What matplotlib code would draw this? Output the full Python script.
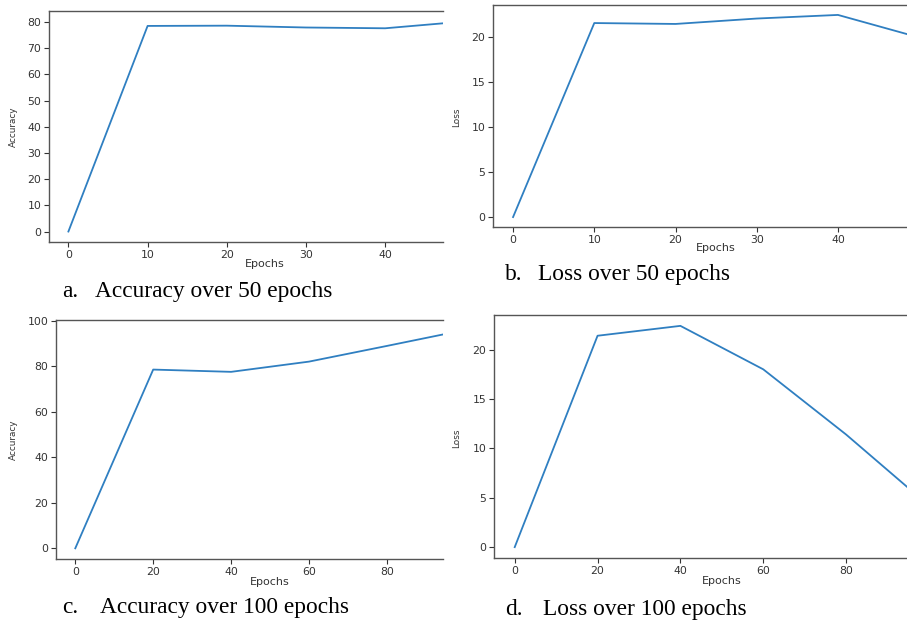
import matplotlib
matplotlib.use("Agg")
import matplotlib.pyplot as plt

# values
epochs_50 = [0, 10, 20, 30, 40, 50]
acc_50 = [0, 78.5, 78.6, 77.9, 77.6, 80.2]
loss_50 = [0, 21.5, 21.4, 22.0, 22.4, 19.9]

epochs_100 = [0, 20, 40, 60, 80, 100]
acc_100 = [0, 78.6, 77.6, 82.1, 89.0, 96.0]
loss_100 = [0, 21.4, 22.4, 18.0, 11.4, 4.2]

captions = [
    ("a.", "Accuracy over 50 epochs"),
    ("b.", "Loss over 50 epochs"),
    ("c.", "Accuracy over 100 epochs"),
    ("d.", "Loss over 100 epochs"),
]

W, H = 907, 624
fig = plt.figure(figsize=(W / 100, H / 100), dpi=100)


def px_axes(left, top, right, bottom):
    return fig.add_axes([left / W, 1 - bottom / H, (right - left) / W, (bottom - top) / H])


def panel(box, x, y, ylabel, xlim, ylim, xticks, yticks, label_pos, ylabel_pos):
    ax = px_axes(*box)
    ax.plot(x, y, color="#2f7fc1", lw=1.3)
    ax.set_xlim(*xlim)
    ax.set_ylim(*ylim)
    ax.set_xticks(xticks)
    ax.set_yticks(yticks)
    ax.spines["right"].set_visible(False)
    for s in ax.spines.values():
        s.set_color("#555555")
        s.set_linewidth(1.0)
    ax.tick_params(labelsize=7.8, colors="#333333", length=3.5, width=0.8, pad=2)
    fig.text(label_pos[0] / W, 1 - label_pos[1] / H, "Epochs", fontsize=8,
             color="#333333", ha="center", va="center")
    fig.text(ylabel_pos[0] / W, 1 - ylabel_pos[1] / H, ylabel, fontsize=6.4,
             color="#333333", ha="center", va="center", rotation=90)
    return ax


panel((49, 11, 443, 242), epochs_50, acc_50, "Accuracy", (-2.45, 47.3), (-4.0, 84.2),
      range(0, 50, 10), range(0, 90, 10), (265, 264), (13, 127))
panel((493, 5, 907, 227), epochs_50, loss_50, "Loss", (-2.47, 48.5), (-1.1, 23.5),
      range(0, 50, 10), range(0, 25, 5), (716, 248), (457, 117))
panel((56, 320, 443, 559), epochs_100, acc_100, "Accuracy", (-4.95, 94.4), (-4.7, 100.4),
      range(0, 100, 20), range(0, 120, 20), (270, 582), (13, 440))
panel((494, 315, 907, 558), epochs_100, loss_100, "Loss", (-5.0, 94.7), (-1.1, 23.5),
      range(0, 100, 20), range(0, 25, 5), (722, 581), (457, 438))

cap_pos = [(62, 95, 297), (505, 538, 280), (62, 100, 613), (505, 543, 615)]
for (letter, text), (xl, xt, yb) in zip(captions, cap_pos):
    fig.text(xl / W, 1 - yb / H, letter, fontsize=16.8, family="Liberation Serif",
             ha="left", va="baseline")
    fig.text(xt / W, 1 - yb / H, text, fontsize=16.8, family="Liberation Serif",
             ha="left", va="baseline")

fig.savefig("out.png", dpi=100)
